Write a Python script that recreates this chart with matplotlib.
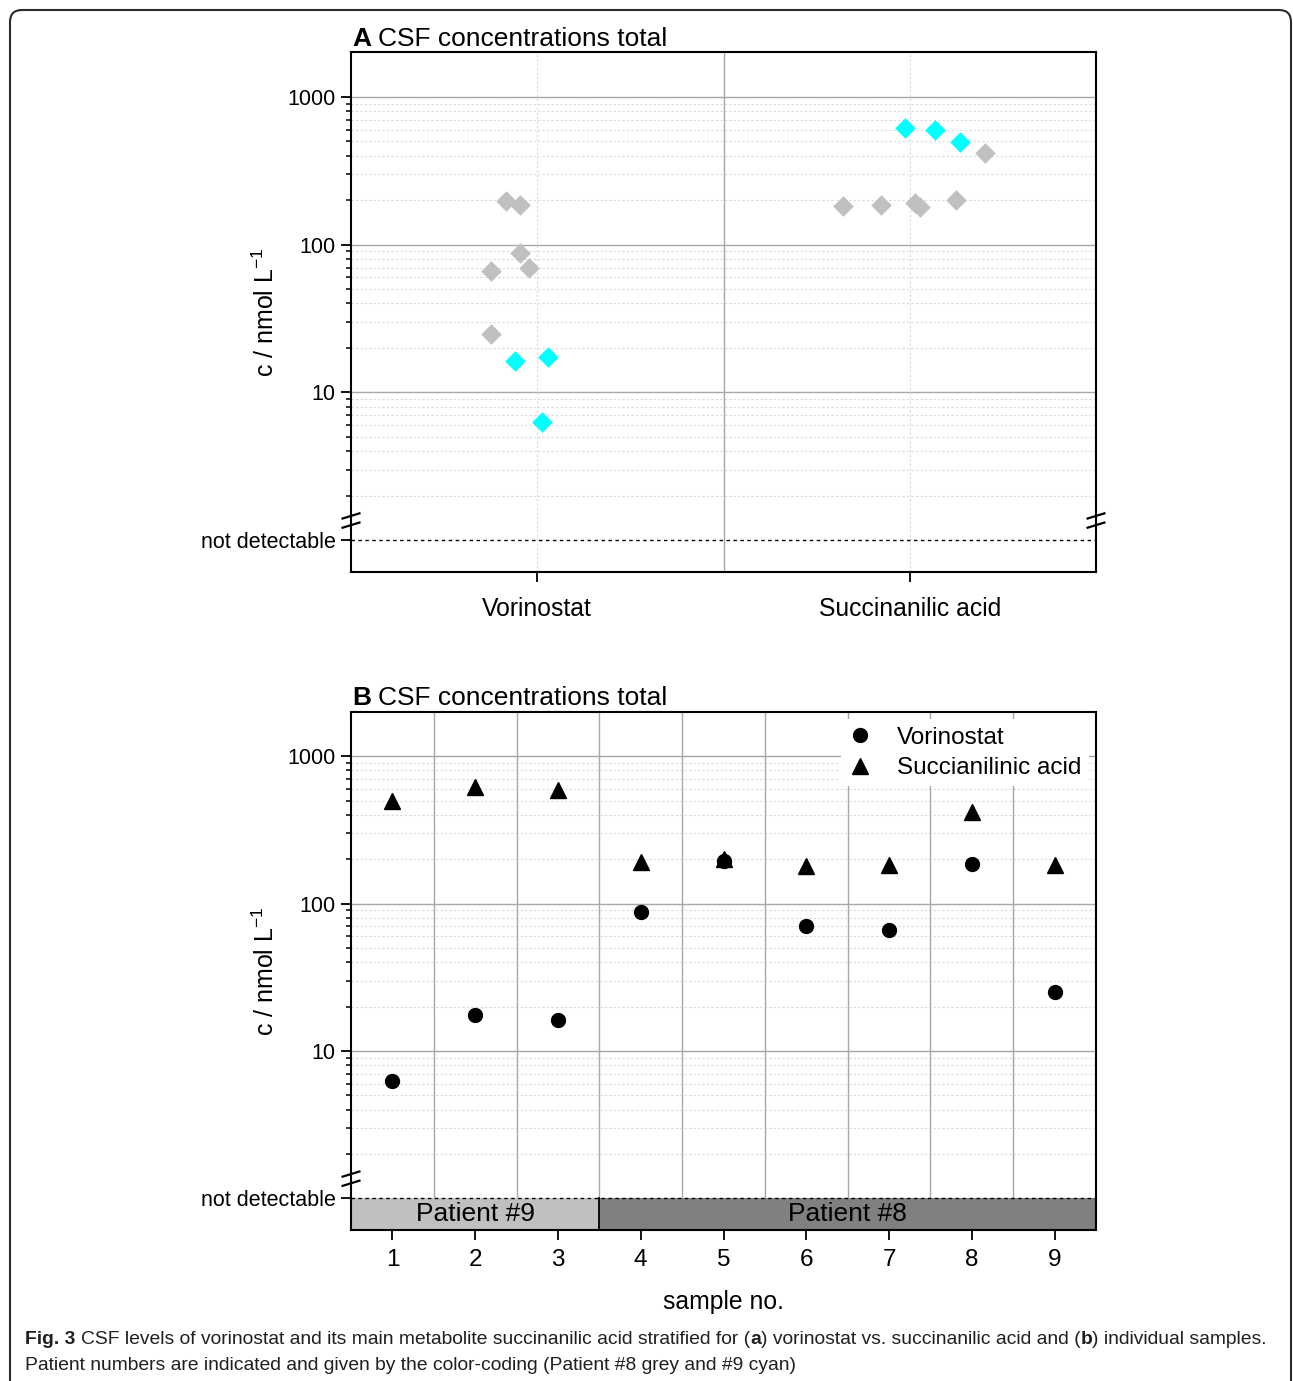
import numpy as np
import matplotlib
matplotlib.use("Agg")
import matplotlib.pyplot as plt
from matplotlib.patches import Rectangle, FancyBboxPatch
from matplotlib.lines import Line2D
from matplotlib.ticker import NullFormatter, FixedLocator

plt.rcParams.update({
    "font.family": ["Liberation Sans", "DejaVu Sans"],
    "mathtext.fontset": "custom",
    "mathtext.rm": "Liberation Sans",
    "mathtext.it": "Liberation Sans:italic",
    "mathtext.bf": "Liberation Sans:bold",
    "axes.linewidth": 1.5,
    "axes.edgecolor": "black",
})

# --- data ---
samples = [1, 2, 3, 4, 5, 6, 7, 8, 9]
patient = [9, 9, 9, 8, 8, 8, 8, 8, 8]
vorinostat = [6.3, 17.5, 16.2, 88, 196, 70, 66, 185, 25]
succinanilic = [494, 618, 592, 191, 200, 181, 184, 418, 182]
# horizontal scatter of the points in panel A (per sample)
jitter_vor = [0.013, 0.030, -0.060, -0.046, -0.084, -0.022, -0.125, -0.046, -0.124]
jitter_suc = [0.135, -0.014, 0.067, 0.015, 0.124, 0.028, -0.076, 0.203, -0.178]
categories = ["Vorinostat", "Succinanilic acid"]
patient_groups = [("Patient #9", 1, 3), ("Patient #8", 4, 9)]

patient_color = {9: "#00FFFF", 8: "#C0C0C0"}
bar_color = {"Patient #9": "#C0C0C0", "Patient #8": "#808080"}

YMIN, YMAX = 0.61, 2010
YLABEL = r"c / nmol L$^{\mathrm{-1}}$"

W, H = 1293, 1381
fig = plt.figure(figsize=(W / 100, H / 100), dpi=100)


def px_axes(l, t, r, b):
    return fig.add_axes([l / W, 1 - b / H, (r - l) / W, (b - t) / H])


def yfrac(v):
    return (np.log10(v) - np.log10(YMIN)) / (np.log10(YMAX) - np.log10(YMIN))


def style_log_axis(ax, w_px, h_px, break_x):
    ax.set_yscale("log")
    ax.set_ylim(YMIN, YMAX)
    ax.yaxis.set_major_locator(FixedLocator([1, 10, 100, 1000]))
    ax.set_yticklabels(["not detectable", "10", "100", "1000"])
    minors = [m * d for d in (1, 10, 100) for m in range(2, 10)]
    ax.yaxis.set_minor_locator(FixedLocator(minors))
    ax.yaxis.set_minor_formatter(NullFormatter())
    for v in (10, 100, 1000):
        ax.axhline(v, color="#A8A8A8", lw=1.0, zorder=0)
    for v in minors:
        ax.axhline(v, color="#DADADA", lw=0.8, ls=(0, (2, 2)), zorder=0)
    ax.axhline(1, color="black", lw=1.0, ls=(0, (2.5, 2.5)), zorder=3)
    ax.tick_params(axis="y", which="major", direction="out", length=7,
                   width=1.3, labelsize=15.5, pad=4)
    ax.tick_params(axis="y", which="minor", direction="out", length=3.5, width=1.1)
    ax.tick_params(axis="x", which="major", direction="out", length=7, width=1.3)
    ax.set_ylabel(YLABEL, fontsize=18)
    ax.yaxis.set_label_coords(-0.097, 0.5)
    # axis break marks
    f = yfrac(1.36)
    for x in break_x:
        for off in (-4.6, 4.6):
            ax.plot([x - 9.5 / w_px, x + 9.5 / w_px],
                    [f + (off - 2.9) / h_px, f + (off + 2.9) / h_px],
                    transform=ax.transAxes, color="black", lw=1.6,
                    clip_on=False, zorder=6, solid_capstyle="butt")


def rich_text(x_px, y_px, parts, size, family, color="black", fit=None):
    r = fig.canvas.get_renderer()

    def tw(s, weight, sz):
        t = fig.text(0, 0, s, fontsize=sz, family=family, fontweight=weight)
        w = t.get_window_extent(r).width
        t.remove()
        return w

    def layout(sz):
        space = tw("n n", "normal", sz) - tw("nn", "normal", sz)
        x = x_px
        out = []
        for s, weight in parts:
            lead = len(s) - len(s.lstrip(" "))
            trail = len(s) - len(s.rstrip(" "))
            x += lead * space
            core = s.strip(" ")
            out.append((x, core, weight))
            x += tw(core, weight, sz) + trail * space
        return out, x - x_px

    out, width = layout(size)
    if fit is not None:
        size = size * fit / width
        out, width = layout(size)
    for x, core, weight in out:
        fig.text(x / W, 1 - y_px / H, core, fontsize=size, family=family,
                 fontweight=weight, color=color, va="baseline", ha="left")
    return size


# ---------------- panel A ----------------
axA = px_axes(351, 52, 1096, 572)
style_log_axis(axA, 745, 520, (0, 1))
axA.set_xlim(0.5, 2.5)
axA.set_xticks([1, 2])
axA.set_xticklabels(categories, fontsize=17.8)
axA.tick_params(axis="x", pad=11)
axA.axvline(1.5, color="#A8A8A8", lw=1.0, zorder=0)
for xc in (1, 2):
    axA.axvline(xc, color="#DADADA", lw=0.8, ls=(0, (2, 2)), zorder=0)

for grp in (8, 9):
    idx = [i for i, p in enumerate(patient) if p == grp]
    xs = [1 + jitter_vor[i] for i in idx] + [2 + jitter_suc[i] for i in idx]
    ys = [vorinostat[i] for i in idx] + [succinanilic[i] for i in idx]
    axA.scatter(xs, ys, marker="D", s=110, color=patient_color[grp],
                linewidths=0, zorder=4)

# ---------------- panel B ----------------
axB = px_axes(351, 711.5, 1096, 1230)
style_log_axis(axB, 745, 518.5, (0,))
axB.set_xlim(0.5, 9.5)
axB.set_xticks(samples)
axB.tick_params(axis="x", labelsize=17.5, pad=7)
axB.set_xlabel("sample no.", fontsize=17.8, labelpad=13)
for xc in np.arange(1.5, 9.5, 1.0):
    axB.axvline(xc, color="#A8A8A8", lw=1.0, zorder=0)

for name, s0, s1 in patient_groups:
    axB.add_patch(Rectangle((s0 - 0.5, YMIN), s1 - s0 + 1, 1 - YMIN,
                            facecolor=bar_color[name], edgecolor="none",
                            zorder=2))
    axB.text((s0 + s1) / 2, np.sqrt(YMIN * 1.0), name, ha="center",
             va="center", fontsize=19, zorder=5)
axB.plot([3.5, 3.5], [YMIN, 1], color="black", lw=1.3, zorder=4)

axB.plot(samples, vorinostat, ls="none", marker="o", ms=10, color="black",
         zorder=5)
axB.plot(samples, succinanilic, ls="none", marker="^", ms=11, color="black",
         zorder=5)

handles = [Line2D([], [], ls="none", marker="o", ms=10, color="black"),
           Line2D([], [], ls="none", marker="^", ms=11, color="black")]
leg = axB.legend(handles, ["Vorinostat", "Succianilinic acid"], loc="upper right",
                 bbox_to_anchor=(0.99, 0.985), fontsize=17.5, frameon=True,
                 fancybox=False, edgecolor="none", facecolor="white",
                 framealpha=1, handlelength=1.0, handletextpad=1.0,
                 labelspacing=0.35, borderpad=0.3, borderaxespad=0.0)
leg.set_zorder(7)

# ---------------- titles ----------------
rich_text(352, 46, [("A", "bold"), (" CSF concentrations total", "normal")],
          19.0, ["Liberation Sans"])
rich_text(352, 705, [("B", "bold"), (" CSF concentrations total", "normal")],
          19.0, ["Liberation Sans"])

# ---------------- caption ----------------
cap_family = ["Liberation Sans Narrow", "Liberation Sans"]
cap_color = "#231F20"
line1 = [("Fig. 3", "bold"),
         (" CSF levels of vorinostat and its main metabolite succinanilic acid "
          "stratified for (", "normal"), ("a", "bold"),
         (") vorinostat vs. succinanilic acid and (", "normal"), ("b", "bold"),
         (") individual samples.", "normal")]
line2 = [("Patient numbers are indicated and given by the color-coding "
          "(Patient #8 grey and #9 cyan)", "normal")]
cap_size = rich_text(25, 1344, line1, 14.2, cap_family, cap_color, fit=1246)
rich_text(25, 1370, line2, cap_size, cap_family, cap_color)

# outer frame
frame = FancyBboxPatch((0.10, -0.5), 12.81, 13.71 + 0.5,
                       boxstyle="round,pad=0,rounding_size=0.12",
                       transform=fig.dpi_scale_trans, facecolor="none",
                       edgecolor="#2B2B2B", lw=1.5, clip_on=False)
fig.patches.append(frame)

fig.savefig("out.png", dpi=100)
